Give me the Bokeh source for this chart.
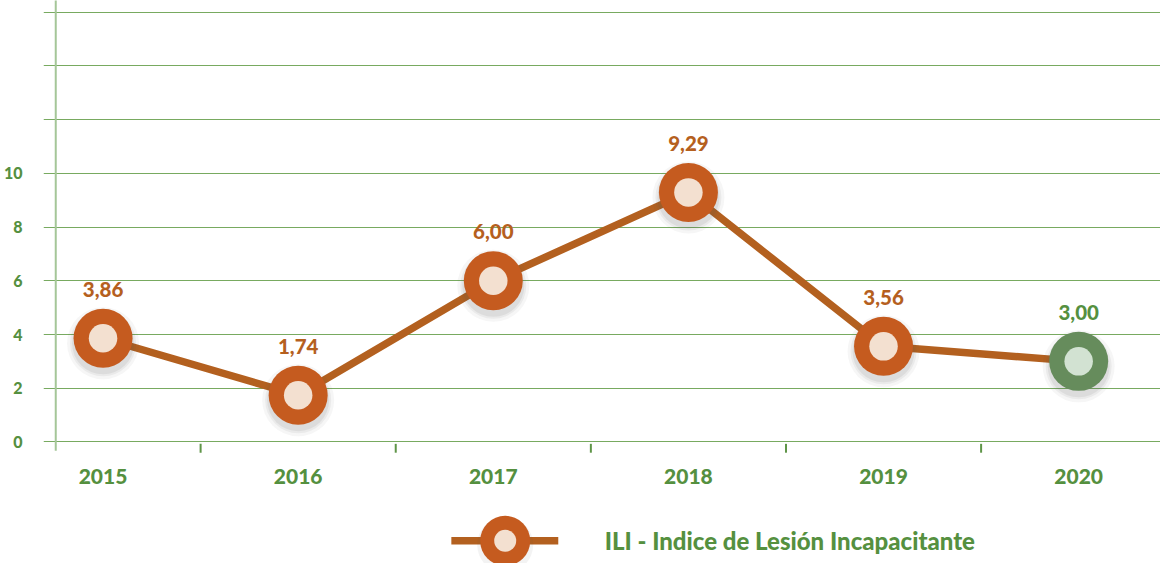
from bokeh.plotting import figure
from bokeh.models import Range1d, FixedTicker, ColumnDataSource
from bokeh.core.properties import value
from bokeh.embed import file_html
from bokeh.resources import INLINE

# ---- data ----
years = ["2015", "2016", "2017", "2018", "2019", "2020"]
ili = [3.86, 1.74, 6.00, 9.29, 3.56, 3.00]
ili_labels = ["3,86", "1,74", "6,00", "9,29", "3,56", "3,00"]
series_name = "ILI - Indice de Lesión Incapacitante"
y_tick_values = [0, 2, 4, 6, 8, 10]
grid_values = [0, 2, 4, 6, 8, 10, 12, 14, 16]

ORANGE = "#c55b1f"
LINE = "#b3601f"
CREAM = "#f3e0d0"
GREEN_TXT = "#55903f"
GREEN_MK = "#668c5c"
GREEN_IN = "#d2e2d2"
GRID = "#78aa60"
FONT = "Lato Black, Lato"

W, H = 1160, 563
PXU = 26.862  # vertical pixels per unit

idx = list(range(len(years)))
is_last = [i == len(years) - 1 for i in idx]
outer_col = [GREEN_MK if l else ORANGE for l in is_last]
inner_col = [GREEN_IN if l else CREAM for l in is_last]
lab_col = [GREEN_TXT if l else "#b5601e" for l in is_last]

src = ColumnDataSource(dict(x=idx, y=ili, lab=ili_labels, outer=outer_col,
                            inner=inner_col, labc=lab_col, year=years,
                            ysh=[v - 5 / PXU for v in ili],
                            zero=[0] * len(years)))

p = figure(width=W, height=H, output_backend="svg", toolbar_location=None,
           x_range=Range1d(-0.3052, 5.4194),
           y_range=Range1d(-121.54 / PXU, 16 + 11.67 / PXU),
           x_axis_location=None, min_border_left=42, min_border_right=0,
           min_border_top=0, min_border_bottom=0)
p.outline_line_color = None
p.xgrid.visible = False

# y axis
ya = p.yaxis[0]
ya.ticker = FixedTicker(ticks=y_tick_values)
ya.axis_line_color = None
ya.major_tick_line_color = None
ya.minor_tick_line_color = None
ya.major_label_standoff = 15
ya.major_label_text_font = FONT
ya.major_label_text_font_style = "normal"
ya.major_label_text_font_size = "16px"
ya.major_label_text_color = GREEN_TXT

p.ygrid.ticker = FixedTicker(ticks=grid_values)
p.ygrid.grid_line_color = GRID
p.ygrid.grid_line_width = 1

# vertical axis line
p.segment(x0=[-0.2424], y0=[-0.325], x1=[-0.2424], y1=[16.6],
          line_color="#a5c698", line_width=2)

# category separator ticks
sep = [i + 0.5 for i in idx[:-1]]
p.segment(x0=sep, y0=[-0.07] * len(sep), x1=sep,
          y1=[-0.40] * len(sep), line_color="#5f9548", line_width=2)

# year labels
p.text(x="x", y="zero", text="year", source=src, y_offset=35,
       text_align="center", text_baseline="middle",
       text_font=value(FONT), text_font_style="normal", text_font_size="21px",
       text_color=GREEN_TXT)

# line
p.line(x="x", y="y", source=src, line_color=LINE, line_width=7.5)

# shadows
for s, a in [(72, 0.05), (66, 0.07), (62, 0.09)]:
    p.scatter(x="x", y="ysh", source=src, size=s, fill_color="#555555",
              fill_alpha=a, line_color=None)

# markers
p.scatter(x="x", y="y", source=src, size=59, fill_color="outer", line_color=None)
p.scatter(x="x", y="y", source=src, size=28.5, fill_color="inner", line_color=None)

# value labels
p.text(x="x", y="y", text="lab", source=src, y_offset=-49,
       text_align="center", text_baseline="middle",
       text_font=value(FONT), text_font_style="normal", text_font_size="20.5px",
       text_color="labc")

# legend (manual)
ly = -3.68
p.segment(x0=[1.785], y0=[ly], x1=[2.333], y1=[ly], line_color=LINE, line_width=7.5)
p.scatter(x=[2.061], y=[ly - 4 / PXU], size=56, fill_color="#555555",
          fill_alpha=0.07, line_color=None)
p.scatter(x=[2.061], y=[ly], size=50, fill_color=ORANGE, line_color=None)
p.scatter(x=[2.061], y=[ly], size=22, fill_color=CREAM, line_color=None)
p.text(x=[2.571], y=[ly], text=[series_name], text_align="left",
       text_baseline="middle", text_font=value(FONT), text_font_style="normal",
       text_font_size="24px", text_color=GREEN_TXT)

open("out.html", "w").write(file_html(p, INLINE))
